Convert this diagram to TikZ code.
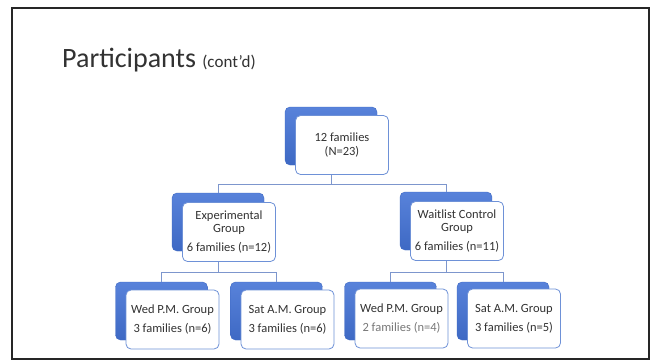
\documentclass[tikz,border=0pt]{standalone}
\usepackage{fontspec}
\setmainfont{Carlito}
\usepackage{xcolor}
\usepackage{tikz}
\usetikzlibrary{positioning, calc}
\definecolor{boxblue}{RGB}{62,105,196}
\definecolor{boxtop}{RGB}{88,130,218}
\definecolor{edgeblue}{RGB}{110,145,215}
\definecolor{linkblue}{RGB}{125,150,205}
\definecolor{slidetext}{RGB}{50,50,50}
\definecolor{fadetext}{RGB}{120,120,120}

\begin{document}
\begin{tikzpicture}[x=1pt, y=-1pt]
        \tikzset{backbox/.style = {rounded corners=5pt, minimum width=92pt, minimum height=58pt, inner sep=0pt, shading=axis, top color=boxtop, bottom color=boxblue, draw=boxblue}}
        \tikzset{frontbox/.style = {rounded corners=5pt, minimum width=93pt, minimum height=59pt, inner sep=0pt, fill=white, draw=edgeblue, line width=0.8pt, align=center, text=slidetext, font=\fontsize{12.5}{13.5}\selectfont}}
        \tikzset{link/.style = {draw=linkblue, line width=0.8pt}}

        \useasboundingbox (0,0) rectangle (652,362);
        \fill[white] (0,0) rectangle (652,362);
        \draw[line width=1.5pt, black!85] (12,8) rectangle (649,359);

        % title
        \node[anchor=base west, inner sep=0pt, text=slidetext] (title) at (62,67) {\fontsize{28}{30}\selectfont Participants \fontsize{17}{20}\selectfont(cont'd)};

        % top
        \node[backbox] (allb) at (331,136) {};
        \node[frontbox] (all) at (342,145) {12 families\\(N=23)};

        % groups
        \node[backbox] (expb) at (218,222) {};
        \node[frontbox] (exp) at (229,232) {Experimental\\Group\\[5pt]6 families (n=12)};
        \node[backbox] (wlb) at (446,221) {};
        \node[frontbox] (wl) at (457,231) {Waitlist Control\\Group\\[5pt]6 families (n=11)};

        % sessions
        \node[backbox] (ewedb) at (161.5,311) {};
        \node[frontbox] (ewed) at (172.5,319.5) {Wed P.M. Group\\[5.5pt]3 families (n=6)};
        \node[backbox] (esatb) at (276.5,311) {};
        \node[frontbox] (esat) at (287.5,319.5) {Sat A.M. Group\\[5.5pt]3 families (n=6)};
        \node[backbox] (wwedb) at (390.5,311) {};
        \node[frontbox] (wwed) at (401.5,318.5) {Wed P.M. Group\\[5.5pt]\textcolor{fadetext}{2 families (n=4)}};
        \node[backbox] (wsatb) at (503,311) {};
        \node[frontbox] (wsat) at (514,318.5) {Sat A.M. Group\\[5.5pt]3 families (n=5)};

        % links
        \draw[link] (allb |- all.south) -- ++(0,9) coordinate (tj) -| (expb.north);
        \draw[link] (tj) -| (wlb.north);
        \draw[link] (expb |- exp.south) -- ++(0,10) coordinate (ej) -| (ewedb.north);
        \draw[link] (ej) -| (esatb.north);
        \draw[link] (wlb |- wl.south) -- ++(0,11) coordinate (wj) -| (wwedb.north);
        \draw[link] (wj) -| (wsatb.north);

        \end{tikzpicture}
\end{document}
